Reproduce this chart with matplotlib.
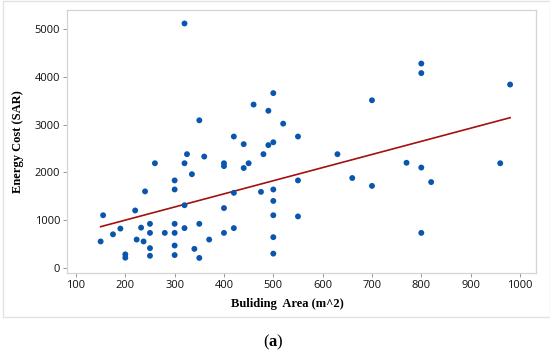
import numpy as np
import matplotlib
matplotlib.use("Agg")
import matplotlib.pyplot as plt
from matplotlib.patches import Rectangle

# building area (m^2) and energy cost (SAR)
area = [155, 150, 175, 190, 200, 200, 220, 223, 232, 237,
        240, 250, 250, 250, 250, 260, 280, 300, 300, 300,
        300, 300, 300, 320, 320, 320, 325, 335, 340, 350,
        350, 360, 370, 400, 400, 400, 400, 420, 420, 440,
        450, 475, 480, 500, 500, 500, 500, 500, 320, 350,
        460, 420, 440, 490, 490, 500, 500, 520, 550, 550,
        550, 630, 660, 700, 700, 770, 800, 800, 800, 800,
        820, 960, 980]
cost = [1100, 550, 700, 820, 280, 210, 1200, 590, 840, 550,
        1600, 920, 730, 410, 250, 2190, 730, 1830, 1640, 920,
        730, 465, 265, 2190, 1310, 830, 2380, 1960, 395, 920,
        205, 2330, 590, 2190, 2130, 1250, 730, 1570, 830, 2090,
        2190, 1590, 2380, 1640, 1400, 1100, 640, 295, 5120, 3090,
        3420, 2750, 2590, 3290, 2570, 2630, 3660, 3020, 2750, 1830,
        1075, 2380, 1880, 3510, 1715, 2200, 4280, 4080, 2100, 730,
        1795, 2190, 3840]

# fitted line (intercept, slope)
fit_intercept = 447
fit_slope = 2.753

x_ticks = [100, 200, 300, 400, 500, 600, 700, 800, 900, 1000]
y_ticks = [0, 1000, 2000, 3000, 4000, 5000]

plt.rcParams["mathtext.fontset"] = "custom"
plt.rcParams["mathtext.bf"] = "Liberation Serif:bold"
plt.rcParams["mathtext.rm"] = "Liberation Serif"

fig = plt.figure(figsize=(5.5, 3.51), dpi=100)

# light frame around the whole panel
fig.patches.append(Rectangle((3 / 550, 1 - 317 / 351), 547 / 550, 316 / 351,
                             transform=fig.transFigure, fill=False,
                             edgecolor="#e2e2e2", linewidth=1.0))

ax = fig.add_axes([67 / 550, 1 - 273 / 351, 469 / 550, 263.5 / 351])

ax.scatter(area, cost, s=18, color="#0a56ad", edgecolors="none", zorder=3)

xs = np.array([min(area), max(area)])
ax.plot(xs, fit_intercept + fit_slope * xs, color="#a50f0f", linewidth=1.2, zorder=2)

ax.set_xlim(81.8, 1032.5)
ax.set_ylim(-111, 5413)
ax.set_xticks(x_ticks)
ax.set_yticks(y_ticks)

for s in ax.spines.values():
    s.set_color("#d4d4d4")
    s.set_linewidth(0.9)
ax.tick_params(axis="both", length=3, width=0.7, color="#999999",
               labelsize=8, labelcolor="#111111", pad=2)
for lab in ax.get_xticklabels() + ax.get_yticklabels():
    lab.set_family("Open Sans")

ax.set_xlabel("Buliding  Area (m^2)", family="Liberation Serif",
              fontweight="bold", fontsize=9)
ax.set_ylabel("Energy Cost (SAR)", family="Liberation Serif",
              fontweight="bold", fontsize=9)
ax.xaxis.set_label_coords((287 - 67) / 469, -(298 - 273) / 263.5)
ax.yaxis.set_label_coords(-(67 - 24) / 469, 0.5)

fig.text(273 / 550, 1 - 342 / 351, r"($\mathbf{a}$)", family="Liberation Serif",
         fontsize=12, ha="center", va="center")

fig.savefig("out.png", dpi=100)
